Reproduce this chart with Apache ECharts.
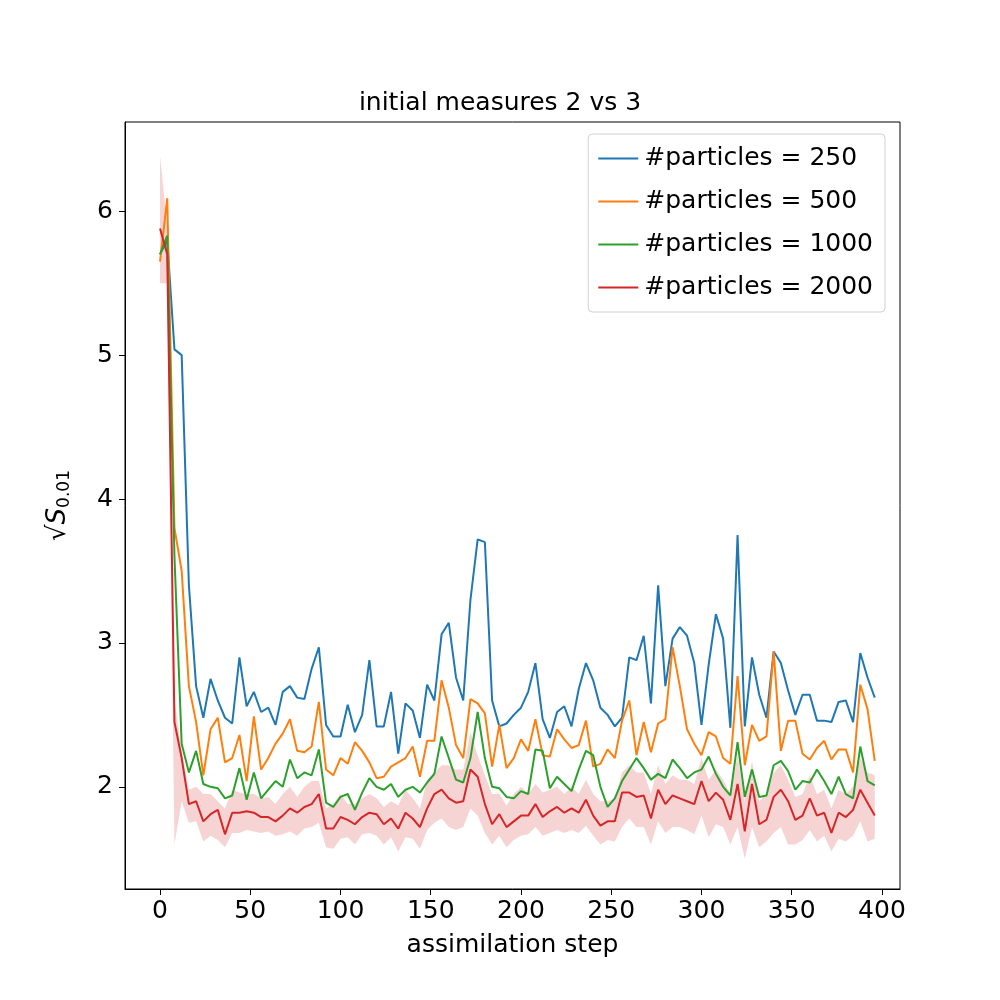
<!DOCTYPE html>
<html>
<head>
<meta charset="utf-8">
<script src="https://cdn.jsdelivr.net/npm/echarts@6/dist/echarts.min.js"></script>
<style>html,body{margin:0;background:#fff}#c{width:1000px;height:1000px}</style>
</head>
<body>
<div id="c"></div>
<script>
// assimilation steps 0..396, every 4
const steps = [];
for (let s = 0; s <= 396; s += 4) steps.push(s);

const p250 = [5.7,5.8,5.04,5.0,3.4,2.7,2.48,2.75,2.6,2.48,2.44,2.9,2.56,2.66,2.52,2.55,2.43,2.66,2.7,2.62,
  2.61,2.82,2.97,2.43,2.35,2.35,2.57,2.38,2.5,2.88,2.42,2.42,2.66,2.23,2.58,2.53,2.34,2.71,2.6,3.06,
  3.14,2.76,2.6,3.3,3.72,3.7,2.6,2.42,2.44,2.5,2.55,2.66,2.86,2.47,2.34,2.52,2.56,2.42,2.68,2.86,
  2.74,2.55,2.5,2.42,2.48,2.9,2.88,3.05,2.58,3.4,2.7,3.03,3.11,3.05,2.86,2.43,2.85,3.2,3.03,2.41,
  3.75,2.42,2.9,2.64,2.48,2.94,2.86,2.67,2.5,2.64,2.64,2.46,2.46,2.45,2.59,2.6,2.45,2.93,2.76,2.62];
const p500 = [5.65,6.09,3.8,3.5,2.7,2.45,2.08,2.4,2.48,2.17,2.2,2.36,2.04,2.49,2.12,2.2,2.3,2.37,2.47,2.25,
  2.24,2.28,2.59,2.12,2.08,2.2,2.16,2.31,2.25,2.17,2.06,2.07,2.14,2.17,2.2,2.28,2.07,2.32,2.32,2.74,
  2.55,2.29,2.2,2.61,2.58,2.51,2.14,2.43,2.13,2.2,2.33,2.25,2.47,2.22,2.21,2.4,2.33,2.27,2.29,2.46,
  2.14,2.16,2.26,2.2,2.46,2.6,2.22,2.45,2.24,2.44,2.47,2.97,2.7,2.4,2.3,2.22,2.38,2.35,2.2,2.16,
  2.77,2.15,2.43,2.32,2.35,2.94,2.25,2.46,2.46,2.23,2.19,2.27,2.32,2.19,2.26,2.26,2.1,2.71,2.54,2.18];
const p1000 = [5.7,5.83,3.6,2.3,2.1,2.25,2.02,2.0,1.99,1.92,1.94,2.13,1.91,2.1,1.92,1.98,2.04,2.0,2.19,2.06,
  2.1,2.08,2.26,1.89,1.86,1.93,1.95,1.84,1.96,2.06,2.0,1.98,2.02,1.93,1.98,2.0,1.96,2.03,2.09,2.35,
  2.2,2.05,2.03,2.2,2.52,2.2,2.0,1.99,1.93,1.92,1.97,1.95,2.26,2.25,1.99,2.07,2.02,1.97,2.12,2.25,
  2.22,2.0,1.86,1.92,2.04,2.12,2.2,2.13,2.05,2.09,2.06,2.19,2.13,2.06,2.1,2.12,2.21,2.09,2.0,1.94,
  2.31,1.93,2.12,1.93,1.94,2.15,2.18,2.11,1.98,2.04,2.03,2.12,2.04,1.95,2.07,1.95,1.92,2.28,2.04,2.01];
const p2000 = [5.88,5.7,2.45,2.2,1.88,1.9,1.76,1.81,1.84,1.67,1.82,1.82,1.83,1.82,1.79,1.79,1.76,1.8,1.85,1.82,
  1.86,1.88,1.95,1.71,1.71,1.79,1.77,1.74,1.79,1.82,1.81,1.74,1.78,1.71,1.82,1.78,1.72,1.85,1.95,1.98,
  1.92,1.89,1.9,2.12,2.07,1.88,1.74,1.81,1.72,1.76,1.8,1.8,1.88,1.79,1.83,1.86,1.82,1.85,1.82,1.91,
  1.8,1.73,1.76,1.76,1.96,1.96,1.93,1.94,1.78,1.98,1.88,1.94,1.92,1.9,1.88,2.04,1.9,1.96,1.91,1.77,
  2.02,1.69,2.02,1.74,1.77,1.93,1.98,1.9,1.77,1.8,1.92,1.8,1.82,1.68,1.82,1.79,1.84,1.98,1.89,1.8];
// spread band around the 2000-particle curve
const bandHi = [6.38,5.9,2.6,2.25,1.98,2.0,1.95,1.95,1.9,1.85,1.98,1.96,1.95,1.95,1.92,1.93,1.88,1.95,2.0,1.93,
  2.0,2.04,2.04,1.85,1.88,1.95,1.88,1.88,1.92,1.95,1.92,1.86,1.9,1.87,1.98,1.92,1.85,2.05,2.1,2.15,
  2.15,2.12,2.12,2.38,2.22,2.08,1.95,1.95,1.87,1.95,2.0,1.95,2.02,1.96,1.98,2.0,1.95,2.0,1.95,2.05,
  1.95,1.9,1.9,1.92,2.1,2.15,2.1,2.1,1.95,2.15,2.02,2.08,2.05,2.05,2.02,2.2,2.05,2.12,2.05,1.95,
  2.22,1.9,2.18,1.9,1.95,2.1,2.15,2.05,1.93,1.95,2.08,1.95,1.98,1.85,1.98,1.95,2.0,2.2,2.1,2.08];
const bandLo = [5.5,5.5,1.6,1.9,1.75,1.76,1.62,1.66,1.63,1.58,1.68,1.68,1.7,1.69,1.68,1.69,1.66,1.67,1.69,1.66,
  1.71,1.72,1.75,1.58,1.57,1.64,1.65,1.6,1.67,1.68,1.66,1.6,1.65,1.55,1.65,1.64,1.57,1.7,1.75,1.78,
  1.72,1.7,1.72,1.85,1.8,1.68,1.6,1.66,1.58,1.63,1.66,1.67,1.72,1.66,1.68,1.7,1.68,1.7,1.68,1.73,
  1.66,1.6,1.63,1.62,1.72,1.78,1.72,1.72,1.6,1.76,1.68,1.72,1.72,1.7,1.67,1.8,1.65,1.74,1.72,1.6,
  1.72,1.5,1.72,1.58,1.62,1.68,1.72,1.6,1.6,1.63,1.7,1.62,1.66,1.55,1.64,1.62,1.66,1.76,1.62,1.64];

const xTicks = [0, 50, 100, 150, 200, 250, 300, 350, 400];
const yTicks = [2, 3, 4, 5, 6];

const pair = arr => steps.map((s, i) => [s, arr[i]]);
const colors = ['#1f77b4', '#ff7f0e', '#2ca02c', '#d62728'];
const names = ['#particles = 250', '#particles = 500', '#particles = 1000', '#particles = 2000'];
const lines = [p250, p500, p1000, p2000].map((arr, k) => ({
  name: names[k], type: 'line', data: pair(arr), symbol: 'none',
  lineStyle: { color: colors[k], width: 2 }, itemStyle: { color: colors[k] }, z: 3
}));

const chart = echarts.init(document.getElementById('c'));
const font = 'DejaVu Sans';
chart.setOption({
  animation: false,
  textStyle: { fontFamily: font },
  title: { text: 'initial measures 2 vs 3', left: 'center', top: 86,
    textStyle: { fontFamily: font, fontSize: 25, fontWeight: 'normal', color: '#000' } },
  grid: { left: 125, right: 100, top: 122, bottom: 111, show: true, borderColor: '#000', borderWidth: 1 },
  legend: {
    data: names, orient: 'vertical', right: 115, top: 134,
    backgroundColor: '#fff', borderColor: '#d0d0d0', borderWidth: 1, borderRadius: 4,
    padding: [12, 12, 12, 10], itemGap: 18, itemWidth: 42, itemHeight: 2,
    icon: 'path://M0,0L40,0L40,2L0,2Z',
    textStyle: { fontFamily: font, fontSize: 25, color: '#000' }
  },
  xAxis: {
    type: 'value', min: -19.4, max: 410,
    name: 'assimilation step', nameLocation: 'middle', nameGap: 44,
    nameTextStyle: { fontFamily: font, fontSize: 25, color: '#000' },
    axisLine: { onZero: false, lineStyle: { color: '#000' } },
    axisTick: { customValues: xTicks, length: 6, lineStyle: { color: '#000' } },
    axisLabel: { customValues: xTicks, fontSize: 25, color: '#000', margin: 10 },
    splitLine: { show: false }
  },
  yAxis: {
    type: 'value', min: 1.29, max: 6.62,
    name: '{r|√}{s|S}{b|0.01}', nameLocation: 'middle', nameGap: 52, nameRotate: 90,
    nameTextStyle: { color: '#000', rich: {
      r: { fontSize: 26, fontFamily: font, color: '#000' },
      s: { fontSize: 26, fontStyle: 'italic', fontFamily: font, color: '#000' },
      b: { fontSize: 17, fontFamily: font, color: '#000', verticalAlign: 'bottom', padding: [12, 0, 0, 0] }
    } },
    axisLine: { show: true, onZero: false, lineStyle: { color: '#000' } },
    axisTick: { customValues: yTicks, length: 6, lineStyle: { color: '#000' } },
    axisLabel: { customValues: yTicks, fontSize: 25, color: '#000', margin: 12 },
    splitLine: { show: false }
  },
  series: [
    { type: 'custom', silent: true, z: 1, data: [0],
      renderItem: (params, api) => {
        const top = steps.map((s, i) => api.coord([s, bandHi[i]]));
        const bot = steps.map((s, i) => api.coord([s, bandLo[i]])).reverse();
        return { type: 'polygon', shape: { points: top.concat(bot) },
          style: { fill: 'rgba(214,39,40,0.2)' } };
      } },
    ...lines
  ]
});
</script>
</body>
</html>
